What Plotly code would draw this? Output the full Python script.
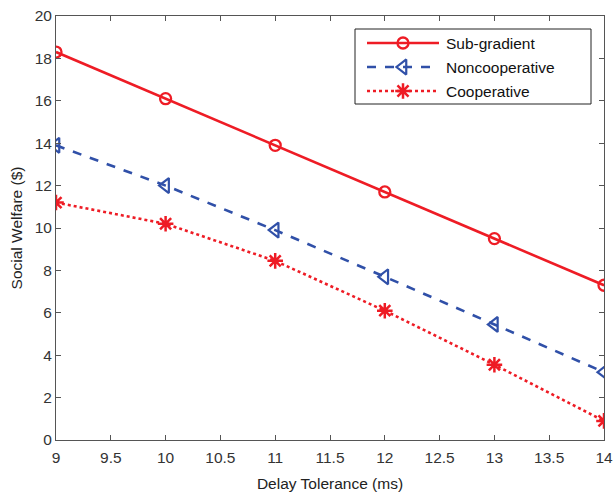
import plotly.graph_objects as go

delay = [9, 10, 11, 12, 13, 14]
sub_gradient = [18.3, 16.1, 13.9, 11.7, 9.5, 7.3]
noncooperative = [13.9, 12.0, 9.9, 7.7, 5.45, 3.2]
cooperative = [11.2, 10.2, 8.45, 6.1, 3.55, 0.9]

series_names = ["Sub-gradient", "Noncooperative", "Cooperative"]
x_ticks = [9, 9.5, 10, 10.5, 11, 11.5, 12, 12.5, 13, 13.5, 14]
y_ticks = [0, 2, 4, 6, 8, 10, 12, 14, 16, 18, 20]

red = "#EE1C25"
blue = "#3050A8"
FONT = "Liberation Sans, Arial"
FS = 15.5

styles = [
    dict(line=dict(color=red, width=2.6, dash="solid"),
         marker=dict(symbol="circle-open", size=11, color=red, line=dict(width=2.3, color=red))),
    dict(line=dict(color=blue, width=2.6, dash="dash"),
         marker=dict(symbol="triangle-left-open", size=13, color=blue, line=dict(width=2.2, color=blue))),
    dict(line=dict(color=red, width=2.6, dash="dot"),
         marker=dict(symbol="asterisk-open", size=13, color=red, line=dict(width=2.5, color=red))),
]

fig = go.Figure()
for name, vals, st in zip(series_names, [sub_gradient, noncooperative, cooperative], styles):
    fig.add_trace(go.Scatter(x=delay, y=vals, name=name, mode="lines+markers",
                             showlegend=False, **st))

# Manual legend drawn on an overlay axis (pixel-like coordinates of plot area)
leg_y = [43, 67, 91]
for name, yy, st in zip(series_names, leg_y, styles):
    fig.add_trace(go.Scatter(x=[367, 439], y=[yy, yy], mode="lines", line=st["line"],
                             xaxis="x2", yaxis="y2", showlegend=False, hoverinfo="skip"))
    fig.add_trace(go.Scatter(x=[403], y=[yy], mode="markers", marker=st["marker"],
                             xaxis="x2", yaxis="y2", showlegend=False, hoverinfo="skip"))
    fig.add_annotation(x=444, y=yy, xref="x2", yref="y2", text=name, showarrow=False,
                       xanchor="left", yanchor="middle",
                       font=dict(family=FONT, size=FS, color="#111111"))

fig.add_shape(type="rect", xref="x2", yref="y2", x0=355, x1=591, y0=29, y1=104,
              line=dict(color="#222222", width=1), fillcolor="white", layer="below")

axis_common = dict(showline=True, linecolor="#555555", linewidth=1, mirror="ticks",
                   ticks="inside", ticklen=5, tickcolor="#555555", showgrid=False, zeroline=False,
                   automargin=False,
                   tickfont=dict(family=FONT, size=FS, color="#333333"))

fig.update_layout(
    xaxis=dict(range=[9, 14], tickvals=x_ticks, ticktext=[f"{v:g}" for v in x_ticks],
               ticklabelstandoff=3,
               title=dict(text="Delay Tolerance (ms)", font=dict(family=FONT, size=FS, color="#222222"), standoff=13),
               **axis_common),
    yaxis=dict(range=[0, 20], tickvals=y_ticks,
               title=dict(text="Social Welfare ($)", font=dict(family=FONT, size=FS, color="#222222"), standoff=8),
               **axis_common),
    xaxis2=dict(overlaying="x", range=[56, 604], visible=False, fixedrange=True),
    yaxis2=dict(overlaying="y", range=[440, 16], visible=False, fixedrange=True),
    width=614, height=495, margin=dict(l=56, r=10, t=16, b=55),
    autosize=False,
    paper_bgcolor="white", plot_bgcolor="white", showlegend=False,
)

fig.write_html("out.html")
